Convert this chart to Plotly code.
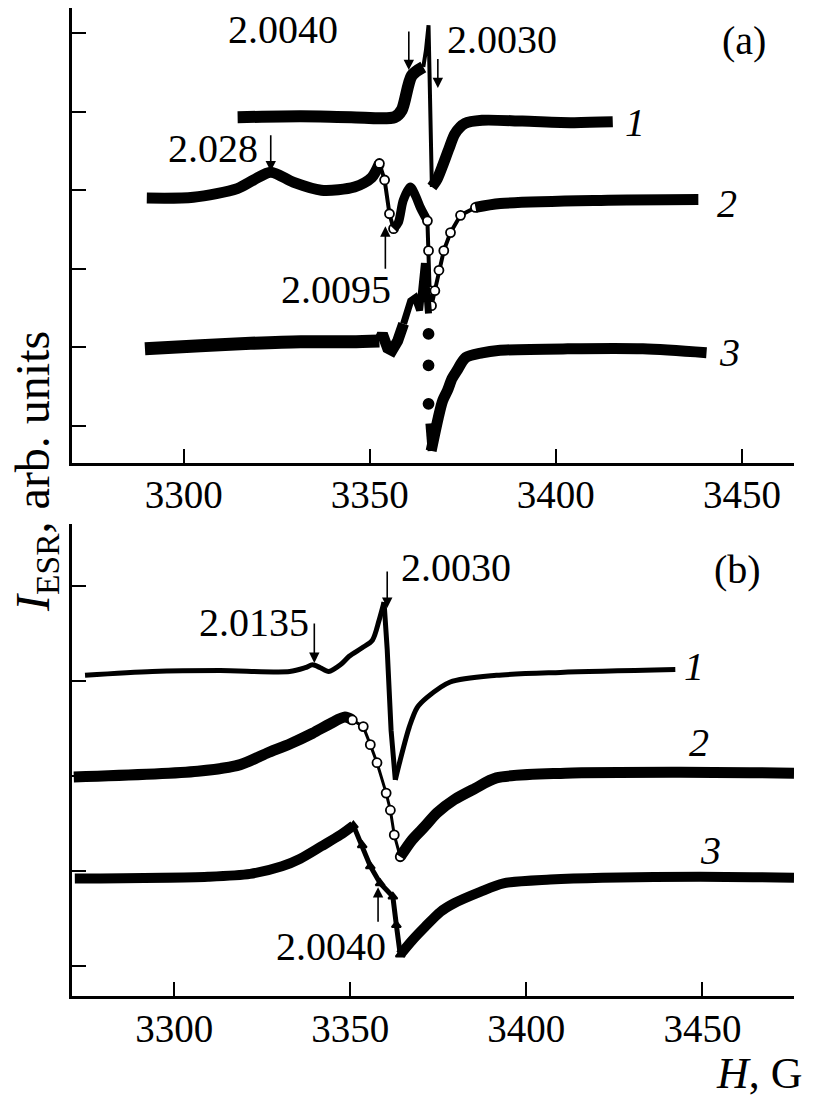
import plotly.graph_objects as go

# ---- panel (a) curves: field H (G), signal in tick units ----
a1_H = [3314.5, 3331.5, 3345.0, 3356.7, 3358.6, 3361.3, 3364.4, 3365.1, 3365.8, 3366.7,
        3368.0, 3369.4, 3371.3, 3372.9, 3375.6, 3380.2, 3391.0, 3404.5, 3415.3]
a1_I = [3.93, 3.94, 3.93, 3.93, 4.02, 4.46, 4.57, 4.78, 5.10, 3.04,
        3.13, 3.29, 3.53, 3.72, 3.85, 3.89, 3.88, 3.86, 3.87]

a2_H = [3290.1, 3302.6, 3314.4, 3318.8, 3323.4, 3329.6, 3337.0, 3345.9, 3350.5, 3352.6,
        3354.0, 3355.3, 3356.4, 3357.7, 3359.0, 3360.9, 3362.3, 3363.6, 3365.5, 3365.8,
        3366.1, 3366.6, 3367.5, 3368.6, 3369.9, 3371.7, 3374.4, 3378.4, 3385.1, 3412.1, 3438.3]
a2_I = [2.90, 2.91, 3.02, 3.13, 3.23, 3.10, 3.00, 3.04, 3.16, 3.34,
        3.13, 2.70, 2.51, 2.59, 2.87, 3.04, 2.93, 2.78, 2.61, 2.23,
        1.72, 1.53, 1.72, 1.98, 2.23, 2.46, 2.68, 2.78, 2.83, 2.87, 2.88]

a3_H = [3289.6, 3304.5, 3318.0, 3331.5, 3345.0, 3352.6, 3353.4, 3354.8, 3356.0, 3357.5,
        3359.1, 3361.0, 3362.2, 3363.4, 3364.7, 3365.8,
        3365.8, 3365.8, 3365.8,
        3365.9, 3366.5, 3368.4, 3369.6, 3370.9, 3372.1, 3373.4, 3375.8, 3380.2, 3384.5,
        3403.2, 3423.4, 3440.5]
a3_I = [0.98, 1.02, 1.05, 1.07, 1.07, 1.08, 1.17, 0.99, 0.96, 1.08,
        1.30, 1.59, 1.63, 1.47, 2.07, 1.43,
        1.17, 0.77, 0.28,
        0.03, -0.32, 0.10, 0.32, 0.45, 0.60, 0.70, 0.87, 0.93, 0.96,
        0.98, 0.98, 0.93]

# ---- panel (b) curves ----
b1_H = [3274.7, 3293.8, 3313.1, 3332.8, 3337.2, 3339.3, 3341.5, 3343.9, 3347.2, 3349.7,
        3353.4, 3356.3, 3358.2, 3359.6, 3360.5, 3361.6, 3362.8, 3364.2, 3366.8, 3369.0,
        3371.9, 3378.4, 3391.5, 3409.7, 3442.3]
b1_I = [3.06, 3.10, 3.11, 3.10, 3.14, 3.17, 3.14, 3.10, 3.17, 3.26,
        3.35, 3.43, 3.64, 3.83, 3.33, 2.48, 1.96, 2.17, 2.52, 2.72,
        2.83, 2.99, 3.06, 3.09, 3.12]

b2_H = [3271.5, 3306.7, 3318.8, 3326.3, 3333.0, 3339.3, 3344.3, 3348.5, 3350.6, 3353.7,
        3355.7, 3357.6, 3360.2, 3361.4, 3362.5, 3364.2, 3367.6, 3371.2, 3374.6, 3379.5,
        3385.5, 3391.5, 3411.1, 3443.8, 3476.0]
b2_I = [1.99, 2.05, 2.12, 2.24, 2.34, 2.45, 2.55, 2.62, 2.59, 2.52,
        2.33, 2.14, 1.82, 1.64, 1.38, 1.15, 1.33, 1.47, 1.61, 1.75,
        1.87, 1.98, 2.03, 2.04, 2.03]

b3_H = [3271.8, 3309.6, 3321.6, 3330.6, 3335.8, 3341.8, 3347.2, 3350.9, 3353.4, 3355.7,
        3358.5, 3362.1, 3363.1, 3364.2, 3367.6, 3371.2, 3375.6, 3379.5, 3386.9, 3393.5,
        3406.8, 3421.6, 3449.4, 3476.0]
b3_I = [0.92, 0.94, 0.97, 1.05, 1.13, 1.26, 1.38, 1.48, 1.27, 1.05,
        0.87, 0.73, 0.43, 0.12, 0.27, 0.41, 0.57, 0.66, 0.78, 0.87,
        0.91, 0.93, 0.94, 0.93]

x_ticks = [3300, 3350, 3400, 3450]
a_yticks = [0, 1, 2, 3, 4, 5]
b_yticks = [0, 1, 2, 3, 4]

# g-factor marks: (text, arrow H, arrow tail, arrow head, text H, text y)
a_marks = [
    ("2.0040", 3360.5, 5.04, 4.53, 3326.7, 5.05),
    ("2.0030", 3368.3, 4.69, 4.30, 3385.6, 4.92),
    ("2.028", 3323.4, 3.72, 3.24, 3307.8, 3.53),
    ("2.0095", 3354.2, 1.98, 2.54, 3341.0, 1.73),
]
b_marks = [
    ("2.0135", 3339.8, 3.62, 3.19, 3322.7, 3.62),
    ("2.0030", 3360.5, 4.17, 3.77, 3380.1, 4.20),
    ("2.0040", 3357.9, 0.45, 0.83, 3344.6, 0.20),
]
a_labels = [("1", 3421.3, 3.86), ("2", 3445.9, 2.83), ("3", 3446.7, 0.93)]
b_labels = [("1", 3447.7, 3.15), ("2", 3448.9, 2.35), ("3", 3452.3, 1.22)]

FONT = "Liberation Serif, Times New Roman, serif"
BLACK = "black"

# page body has an 8 px margin, so the figure is 8 px smaller each way
W, H = 813, 1091

fig = go.Figure()


def seg(Hs, Is, i0, i1, xa, ya, width=11, mode="lines", symbol=None, msize=8,
        mfill=BLACK, smooth=False):
    line = dict(color=BLACK, width=width)
    if smooth:
        line.update(shape="spline", smoothing=0.8)
    tr = dict(x=Hs[i0:i1], y=Is[i0:i1], mode=mode, xaxis=xa, yaxis=ya,
              line=line, showlegend=False, hoverinfo="skip")
    if symbol:
        tr["marker"] = dict(symbol=symbol, size=msize, color=mfill,
                            line=dict(color=BLACK, width=1.8))
    fig.add_trace(go.Scatter(**tr))


# panel (a)
seg(a1_H, a1_I, 0, 7, "x", "y", width=12, smooth=True)
seg(a1_H, a1_I, 6, 10, "x", "y", width=4)
seg(a1_H, a1_I, 9, 19, "x", "y", width=11, smooth=True)

seg(a2_H, a2_I, 0, 10, "x", "y", width=11, smooth=True)
seg(a2_H, a2_I, 9, 13, "x", "y", width=4, mode="lines+markers", symbol="circle", msize=9, mfill="white")
seg(a2_H, a2_I, 12, 19, "x", "y", width=9, smooth=True)
seg(a2_H, a2_I, 18, 28, "x", "y", width=4, mode="lines+markers", symbol="circle", msize=9, mfill="white")
seg(a2_H, a2_I, 27, 31, "x", "y", width=11, smooth=True)

seg(a3_H, a3_I, 0, 6, "x", "y", width=13, smooth=True)
seg(a3_H, a3_I, 5, 11, "x", "y", width=11)
seg(a3_H, a3_I, 10, 16, "x", "y", width=7)
seg(a3_H, a3_I, 16, 19, "x", "y", mode="markers", symbol="circle", msize=10)
seg(a3_H, a3_I, 19, 21, "x", "y", width=7)
seg(a3_H, a3_I, 20, 32, "x", "y", width=11, smooth=True)

# panel (b)
seg(b1_H, b1_I, 0, 14, "x2", "y2", width=5, smooth=True)
seg(b1_H, b1_I, 13, 17, "x2", "y2", width=5)
seg(b1_H, b1_I, 16, 25, "x2", "y2", width=5, smooth=True)

seg(b2_H, b2_I, 0, 9, "x2", "y2", width=11, smooth=True)
seg(b2_H, b2_I, 8, 16, "x2", "y2", width=3, mode="lines+markers", symbol="circle", msize=9, mfill="white")
seg(b2_H, b2_I, 15, 25, "x2", "y2", width=11, smooth=True)

seg(b3_H, b3_I, 0, 8, "x2", "y2", width=10, smooth=True)
seg(b3_H, b3_I, 7, 14, "x2", "y2", width=5, mode="lines+markers", symbol="triangle-up", msize=8)
seg(b3_H, b3_I, 13, 24, "x2", "y2", width=10, smooth=True)

annotations = []
for marks, xr, yr in [(a_marks, "x", "y"), (b_marks, "x2", "y2")]:
    for text, h, tail, head, tx, ty in marks:
        annotations.append(dict(x=h, y=head, ax=h, ay=tail, xref=xr, yref=yr,
                                axref=xr, ayref=yr, text="", showarrow=True,
                                arrowhead=2, arrowsize=1.3, arrowwidth=1.6,
                                arrowcolor=BLACK, standoff=0))
        annotations.append(dict(x=tx, y=ty, xref=xr, yref=yr, text=text, showarrow=False,
                                font=dict(family=FONT, size=40, color=BLACK)))
for labels, xr, yr in [(a_labels, "x", "y"), (b_labels, "x2", "y2")]:
    for text, tx, ty in labels:
        annotations.append(dict(x=tx, y=ty, xref=xr, yref=yr, text="<i>%s</i>" % text,
                                showarrow=False, font=dict(family=FONT, size=40, color=BLACK)))

annotations += [
    dict(x=3450.5, y=4.91, xref="x", yref="y", text="(a)", showarrow=False,
         font=dict(family=FONT, size=40, color=BLACK)),
    dict(x=3459.9, y=4.17, xref="x2", yref="y2", text="(b)", showarrow=False,
         font=dict(family=FONT, size=40, color=BLACK)),
    dict(x=28 / W, y=1 - 464 / H, xref="paper", yref="paper",
         text="<i>I</i><sub>ESR</sub>, arb. units", textangle=-90, showarrow=False,
         xanchor="center", yanchor="middle", font=dict(family=FONT, size=48, color=BLACK)),
    dict(x=751 / W, y=1 - 1065 / H, xref="paper", yref="paper", text="<i>H</i>, G",
         showarrow=False, xanchor="center", yanchor="middle",
         font=dict(family=FONT, size=44, color=BLACK)),
]

axis_common = dict(showline=True, linecolor=BLACK, linewidth=2.5, ticks="inside",
                   ticklen=14, tickwidth=2, tickcolor=BLACK, showgrid=False, zeroline=False,
                   mirror=False, tickfont=dict(family=FONT, size=39, color=BLACK))

fig.update_layout(
    width=W, height=H,
    margin=dict(l=0, r=0, t=0, b=0),
    paper_bgcolor="white", plot_bgcolor="white",
    xaxis=dict(domain=[64 / W, 786 / W], range=[3270, 3464], anchor="y",
               tickvals=x_ticks, ticklabelstandoff=-4, **axis_common),
    yaxis=dict(domain=[1 - 454.7 / H, 1.0], range=[-0.47, 5.32], anchor="x",
               tickvals=a_yticks, showticklabels=False, **axis_common),
    xaxis2=dict(domain=[64 / W, 786 / W], range=[3271, 3476], anchor="y2",
                tickvals=x_ticks, ticklabelstandoff=-4, **axis_common),
    yaxis2=dict(domain=[1 - 988 / H, 1 - 516 / H], range=[-0.316, 4.653], anchor="x2",
                tickvals=b_yticks, showticklabels=False, **axis_common),
    annotations=annotations,
)

fig.write_html("out.html")
